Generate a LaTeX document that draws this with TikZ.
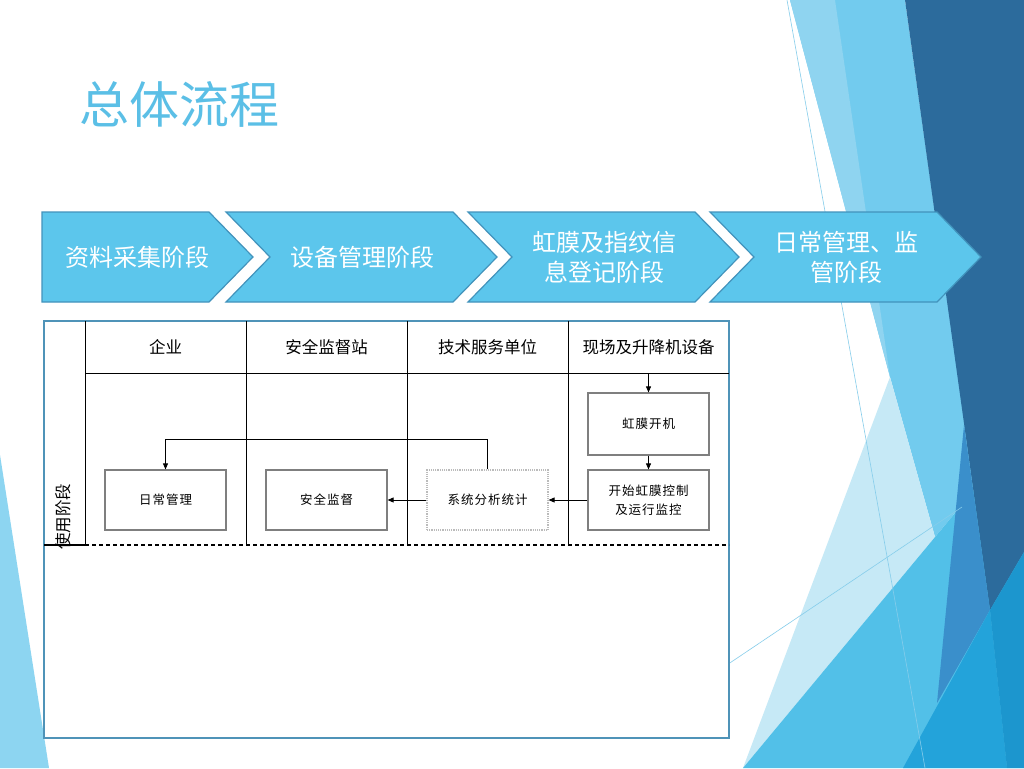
\documentclass[tikz,border=0pt]{standalone}
\usepackage{fontspec}
\newfontfamily\cjk{Noto Sans CJK SC}
\newfontfamily\cjkbox[LetterSpace=8]{Noto Sans CJK SC}
\usetikzlibrary{arrows.meta}
\definecolor{titleblue}{HTML}{5BBFE6}
\definecolor{stagefill}{HTML}{5CC6EC}
\definecolor{stageline}{HTML}{4293BC}
\definecolor{tableline}{HTML}{4F93B8}
\definecolor{boxline}{HTML}{7F7F7F}
\definecolor{dotline}{HTML}{BBBBBB}
\definecolor{facetband}{HTML}{72CBEE}
\definecolor{facetlite}{HTML}{8FD4F0}
\definecolor{facetpale}{HTML}{C6E9F6}
\definecolor{facetdark}{HTML}{2C6B9C}
\definecolor{facetmid}{HTML}{3A8FCB}
\definecolor{facetcyan}{HTML}{52C0E8}
\definecolor{facetdeep}{HTML}{23A3DA}
\definecolor{facetsea}{HTML}{1C96CE}
\definecolor{facetleft}{HTML}{8DD5F1}
\definecolor{facetline}{HTML}{86CDEB}

\begin{document}
\begin{tikzpicture}[x=1pt,y=-1pt,stage/.style={fill=stagefill,draw=stageline,line width=1.2pt},stagetxt/.style={text=white,font=\cjk\fontsize{24}{30}\selectfont,align=center},lanehead/.style={font=\cjk\fontsize{16.5}{20}\selectfont},task/.style={draw=boxline,line width=1.2pt,fill=white,minimum width=121pt,minimum height=60pt,font=\cjkbox\fontsize{12.5}{19}\selectfont,align=center},taskD/.style={task,draw=dotline,densely dotted},flow/.style={-{Triangle[length=6pt,width=5pt]},line width=0.8pt},lane/.style={line width=1pt}]
\def\ctop{212}
\def\cbot{302}
\def\cy{257}
\def\hy{347}
\def\ty{500}

\fill[white] (0,0) rectangle (1024,768);
\useasboundingbox (0,0) rectangle (1024,768);

\fill[facetleft] (0,455) -- (49,768) -- (0,768) -- cycle;
\fill[facetband] (790,0) -- (905,0) -- (974,490) -- (935,537) -- (890,377) -- cycle;
\fill[facetlite] (790,0) -- (835,0) -- (890,377) -- cycle;
\fill[facetpale] (890,377) -- (935,537) -- (743,768) -- cycle;
\fill[facetcyan] (743,768) -- (1024,430) -- (1024,768) -- cycle;
\fill[facetdark] (905,0) -- (1024,0) -- (1024,552) -- (990,610) -- cycle;
\fill[facetmid] (964,425) -- (990,610) -- (937,703) -- cycle;
\fill[facetdeep] (903,768) -- (990,610) -- (1007,768) -- cycle;
\fill[facetsea] (990,610) -- (1024,552) -- (1024,768) -- (1007,768) -- cycle;
\draw[facetline,line width=0.6pt] (787,0) -- (925,768);
\draw[facetline,line width=0.6pt] (700,683) -- (962,507);

\node[anchor=west,text=titleblue,font=\cjk\fontsize{50}{60}\selectfont] (title) at (76,104) {总体流程};

\draw[stage] (42,\ctop) -- (209,\ctop) -- (253,\cy) -- (209,\cbot) -- (42,\cbot) -- cycle;
\foreach \sx in {226,468,710}
  \draw[stage] (\sx,\ctop) -- (\sx+227,\ctop) -- (\sx+271,\cy) -- (\sx+227,\cbot) -- (\sx,\cbot) -- (\sx+44,\cy) -- cycle;
\node[stagetxt] (s1) at (137,\cy) {资料采集阶段};
\node[stagetxt] (s2) at (362,\cy) {设备管理阶段};
\node[stagetxt] (s3) at (604,\cy) {虹膜及指纹信\\息登记阶段};
\node[stagetxt] (s4) at (846,\cy) {日常管理、监\\管阶段};

\draw[tableline,line width=1.8pt,fill=white] (44,321) rectangle (729,738);
\draw[lane] (85,321) -- (85,545);
\foreach \k in {1,2,3}
  \draw[lane] (85+\k*161,321) -- (85+\k*161,545);
\draw[lane] (85,373) -- (729,373);
\draw[line width=1.2pt] (44,545) -- (85,545);
\draw[line width=2pt,dash pattern=on 4pt off 3pt] (85,545) -- (729,545);

\node[lanehead] (h1) at (165.5,\hy) {企业};
\node[lanehead] (h2) at (326.5,\hy) {安全监督站};
\node[lanehead] (h3) at (487.5,\hy) {技术服务单位};
\node[lanehead] (h4) at (648.5,\hy) {现场及升降机设备};
\node[lanehead,rotate=90,anchor=west,inner sep=0pt] (lane) at (63,550) {使用阶段};

\node[task] (daily) at (165.5,\ty) {日常管理};
\node[task] (super) at (326.5,\ty) {安全监督};
\node[taskD] (stat) at (487.5,\ty) {系统分析统计};
\node[task,minimum height=62pt] (boot) at (648.5,424) {虹膜开机};
\node[task] (ctrl) at (648.5,\ty) {开始虹膜控制\\及运行监控};

\coordinate (h4b) at (648.5,373);
\draw[flow] (h4b) -- (boot);
\draw[flow] (boot) -- (ctrl);
\draw[flow] (ctrl) -- (stat);
\draw[flow] (stat) -- (super);
\draw[flow] (stat.north) -- ++(0,-30) -| (daily.north);
\end{tikzpicture}
\end{document}
